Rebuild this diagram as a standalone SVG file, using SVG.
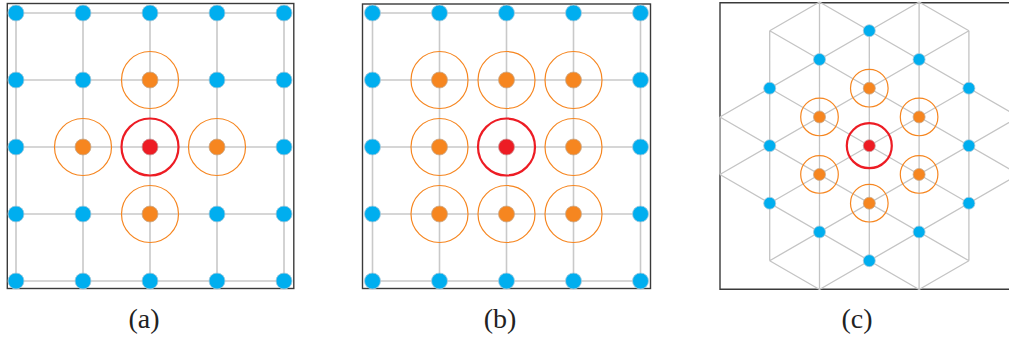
<svg xmlns="http://www.w3.org/2000/svg" width="1009" height="338" viewBox="0 0 1009 338">
<style>
.frame{fill:none;stroke:#3a3a3a;stroke-width:1.4}
.grid{stroke:#c9c9c9;stroke-width:1.6;fill:none}
.hex{stroke:#c4c4c4;stroke-width:1.3;fill:none}
.b{fill:#00aeef;stroke:#a9c9d9;stroke-width:0.8}
.o{fill:#f68620;stroke:#c9a98c;stroke-width:0.8}
.r{fill:#ed1c24;stroke:#c99a9a;stroke-width:0.8}
.or{fill:none;stroke:#f68620;stroke-width:1.2}
.rr{fill:none;stroke:#ed1c24;stroke-width:2.2}
.lbl{font-family:'Liberation Serif','DejaVu Serif',serif;font-size:28px;fill:#222;text-anchor:middle}
</style>
<rect class="frame" x="7.3" y="3.5" width="286.5" height="285"/>
<rect class="frame" x="362.5" y="4" width="288" height="284.5"/>
<path class="frame" d="M1010,2.7 H720 V289.2 H1010"/>
<g id="connectors">
<g id="grid-a">
<path class="grid" d="M16,13H284M16,80H284M16,147H284M16,214H284M16,281H284M16,13V281M83,13V281M150,13V281M217,13V281M284,13V281"/>
</g>
<g id="grid-b">
<path class="grid" d="M372.5,13H640.5M372.5,80H640.5M372.5,147H640.5M372.5,214H640.5M372.5,281H640.5M372.5,13V281M439.5,13V281M506.5,13V281M573.5,13V281M640.5,13V281"/>
</g>
<g id="grid-c">
<path class="hex" d="M719.9,116.95V174.45M769.7,30.7V260.7M819.5,2.7V288.7M869.3,30.7V260.7M919.1,2.7V288.7M968.9,30.7V260.7M1018.7,116.95V174.45
M769.7,30.7L819.5,1.95M719.9,116.95L919.1,1.95M719.9,174.45L968.9,30.7M769.7,203.2L968.9,88.2M769.7,260.7L1018.7,116.95M819.5,289.45L1018.7,174.45M919.1,289.45L968.9,260.7
M769.7,260.7L819.5,289.45M719.9,174.45L919.1,289.45M719.9,116.95L968.9,260.7M769.7,88.2L968.9,203.2M769.7,30.7L1018.7,174.45M819.5,1.95L1018.7,116.95M919.1,1.95L968.9,30.7"/>
</g>
</g>
<g id="nodes-a">
<g id="a-0-0"><circle class="b" cx="16" cy="13" r="8"/></g>
<g id="a-1-0"><circle class="b" cx="83" cy="13" r="8"/></g>
<g id="a-2-0"><circle class="b" cx="150" cy="13" r="8"/></g>
<g id="a-3-0"><circle class="b" cx="217" cy="13" r="8"/></g>
<g id="a-4-0"><circle class="b" cx="284" cy="13" r="8"/></g>
<g id="a-0-1"><circle class="b" cx="16" cy="80" r="8"/></g>
<g id="a-1-1"><circle class="b" cx="83" cy="80" r="8"/></g>
<g id="a-2-1"><circle class="or" cx="150" cy="80" r="28.5"/><circle class="o" cx="150" cy="80" r="8"/></g>
<g id="a-3-1"><circle class="b" cx="217" cy="80" r="8"/></g>
<g id="a-4-1"><circle class="b" cx="284" cy="80" r="8"/></g>
<g id="a-0-2"><circle class="b" cx="16" cy="147" r="8"/></g>
<g id="a-1-2"><circle class="or" cx="83" cy="147" r="28.5"/><circle class="o" cx="83" cy="147" r="8"/></g>
<g id="a-2-2"><circle class="rr" cx="150" cy="147" r="28.5"/><circle class="r" cx="150" cy="147" r="8"/></g>
<g id="a-3-2"><circle class="or" cx="217" cy="147" r="28.5"/><circle class="o" cx="217" cy="147" r="8"/></g>
<g id="a-4-2"><circle class="b" cx="284" cy="147" r="8"/></g>
<g id="a-0-3"><circle class="b" cx="16" cy="214" r="8"/></g>
<g id="a-1-3"><circle class="b" cx="83" cy="214" r="8"/></g>
<g id="a-2-3"><circle class="or" cx="150" cy="214" r="28.5"/><circle class="o" cx="150" cy="214" r="8"/></g>
<g id="a-3-3"><circle class="b" cx="217" cy="214" r="8"/></g>
<g id="a-4-3"><circle class="b" cx="284" cy="214" r="8"/></g>
<g id="a-0-4"><circle class="b" cx="16" cy="281" r="8"/></g>
<g id="a-1-4"><circle class="b" cx="83" cy="281" r="8"/></g>
<g id="a-2-4"><circle class="b" cx="150" cy="281" r="8"/></g>
<g id="a-3-4"><circle class="b" cx="217" cy="281" r="8"/></g>
<g id="a-4-4"><circle class="b" cx="284" cy="281" r="8"/></g>
</g>
<g id="nodes-b">
<g id="b-0-0"><circle class="b" cx="372.5" cy="13" r="8"/></g>
<g id="b-1-0"><circle class="b" cx="439.5" cy="13" r="8"/></g>
<g id="b-2-0"><circle class="b" cx="506.5" cy="13" r="8"/></g>
<g id="b-3-0"><circle class="b" cx="573.5" cy="13" r="8"/></g>
<g id="b-4-0"><circle class="b" cx="640.5" cy="13" r="8"/></g>
<g id="b-0-1"><circle class="b" cx="372.5" cy="80" r="8"/></g>
<g id="b-1-1"><circle class="or" cx="439.5" cy="80" r="28.5"/><circle class="o" cx="439.5" cy="80" r="8"/></g>
<g id="b-2-1"><circle class="or" cx="506.5" cy="80" r="28.5"/><circle class="o" cx="506.5" cy="80" r="8"/></g>
<g id="b-3-1"><circle class="or" cx="573.5" cy="80" r="28.5"/><circle class="o" cx="573.5" cy="80" r="8"/></g>
<g id="b-4-1"><circle class="b" cx="640.5" cy="80" r="8"/></g>
<g id="b-0-2"><circle class="b" cx="372.5" cy="147" r="8"/></g>
<g id="b-1-2"><circle class="or" cx="439.5" cy="147" r="28.5"/><circle class="o" cx="439.5" cy="147" r="8"/></g>
<g id="b-2-2"><circle class="rr" cx="506.5" cy="147" r="28.5"/><circle class="r" cx="506.5" cy="147" r="8"/></g>
<g id="b-3-2"><circle class="or" cx="573.5" cy="147" r="28.5"/><circle class="o" cx="573.5" cy="147" r="8"/></g>
<g id="b-4-2"><circle class="b" cx="640.5" cy="147" r="8"/></g>
<g id="b-0-3"><circle class="b" cx="372.5" cy="214" r="8"/></g>
<g id="b-1-3"><circle class="or" cx="439.5" cy="214" r="28.5"/><circle class="o" cx="439.5" cy="214" r="8"/></g>
<g id="b-2-3"><circle class="or" cx="506.5" cy="214" r="28.5"/><circle class="o" cx="506.5" cy="214" r="8"/></g>
<g id="b-3-3"><circle class="or" cx="573.5" cy="214" r="28.5"/><circle class="o" cx="573.5" cy="214" r="8"/></g>
<g id="b-4-3"><circle class="b" cx="640.5" cy="214" r="8"/></g>
<g id="b-0-4"><circle class="b" cx="372.5" cy="281" r="8"/></g>
<g id="b-1-4"><circle class="b" cx="439.5" cy="281" r="8"/></g>
<g id="b-2-4"><circle class="b" cx="506.5" cy="281" r="8"/></g>
<g id="b-3-4"><circle class="b" cx="573.5" cy="281" r="8"/></g>
<g id="b-4-4"><circle class="b" cx="640.5" cy="281" r="8"/></g>
</g>
<g id="nodes-c">
<g id="c-center"><circle class="rr" cx="869.3" cy="145.7" r="22.5"/><circle class="r" cx="869.3" cy="145.7" r="6"/></g>
<g id="c-o1"><circle class="or" cx="869.3" cy="88.2" r="18.8"/><circle class="o" cx="869.3" cy="88.2" r="6"/></g>
<g id="c-o2"><circle class="or" cx="819.5" cy="116.95" r="18.8"/><circle class="o" cx="819.5" cy="116.95" r="6"/></g>
<g id="c-o3"><circle class="or" cx="919.1" cy="116.95" r="18.8"/><circle class="o" cx="919.1" cy="116.95" r="6"/></g>
<g id="c-o4"><circle class="or" cx="819.5" cy="174.45" r="18.8"/><circle class="o" cx="819.5" cy="174.45" r="6"/></g>
<g id="c-o5"><circle class="or" cx="919.1" cy="174.45" r="18.8"/><circle class="o" cx="919.1" cy="174.45" r="6"/></g>
<g id="c-o6"><circle class="or" cx="869.3" cy="203.2" r="18.8"/><circle class="o" cx="869.3" cy="203.2" r="6"/></g>
<g id="c-b1"><circle class="b" cx="869.3" cy="30.7" r="6"/></g>
<g id="c-b2"><circle class="b" cx="819.5" cy="59.45" r="6"/></g>
<g id="c-b3"><circle class="b" cx="919.1" cy="59.45" r="6"/></g>
<g id="c-b4"><circle class="b" cx="769.7" cy="88.2" r="6"/></g>
<g id="c-b5"><circle class="b" cx="968.9" cy="88.2" r="6"/></g>
<g id="c-b6"><circle class="b" cx="769.7" cy="145.7" r="6"/></g>
<g id="c-b7"><circle class="b" cx="968.9" cy="145.7" r="6"/></g>
<g id="c-b8"><circle class="b" cx="769.7" cy="203.2" r="6"/></g>
<g id="c-b9"><circle class="b" cx="968.9" cy="203.2" r="6"/></g>
<g id="c-b10"><circle class="b" cx="819.5" cy="231.95" r="6"/></g>
<g id="c-b11"><circle class="b" cx="919.1" cy="231.95" r="6"/></g>
<g id="c-b12"><circle class="b" cx="869.3" cy="260.7" r="6"/></g>
</g>
<g id="labels">
<text class="lbl" x="144" y="328">(a)</text>
<text class="lbl" x="500" y="328">(b)</text>
<text class="lbl" x="857" y="328">(c)</text>
</g>
</svg>
